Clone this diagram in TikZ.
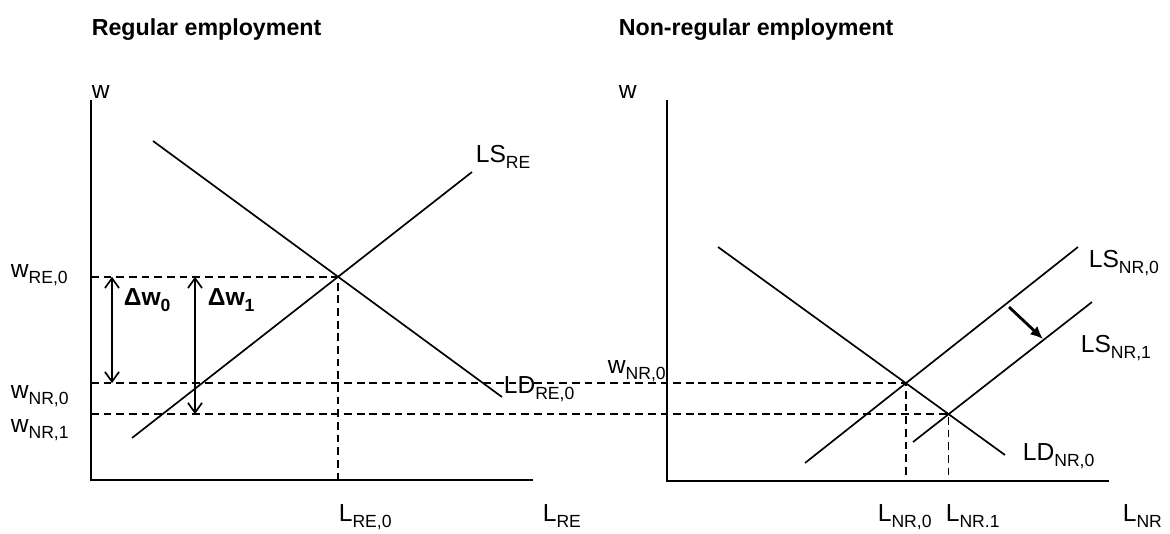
\documentclass[tikz,border=0pt]{standalone}
\usepackage{fontspec}
\setmainfont{Liberation Sans}
\usetikzlibrary{arrows.meta, calc}
\newcommand{\lsub}[1]{\raisebox{-0.25em}{\fontsize{12.5}{12.5}\selectfont #1}}

\begin{document}
\begin{tikzpicture}[
		x=0.025cm, y=-0.025cm,
		line width=1.2pt,
		>={Straight Barb[length=7pt, width=10pt]},
		axis/.style={line width=1.5pt},
		curve/.style={line width=1.2pt},
		guide/.style={dash pattern=on 5.5pt off 3.5pt, line width=1.1pt},
		shiftarr/.style={-{Latex[length=9pt, width=8pt]}, line width=2pt},
		lbl/.style={font=\fontsize{17.5}{17.5}\selectfont, anchor=base west, inner sep=0pt},
		delta/.style={font=\fontsize{17.5}{17.5}\selectfont\bfseries, anchor=base west, inner sep=0pt},
		title/.style={font=\fontsize{16.5}{16.5}\selectfont\bfseries, anchor=base west, inner sep=0pt}
		]
		\useasboundingbox (0,0) rectangle (1170,533);
		
		% Titles
		\node[title] (ttlRE) at (91,35) {Regular employment};
		\node[title] (ttlNR) at (618,35) {Non-regular employment};
		
		% Regular employment: axes
		\coordinate (wRE) at (91,100);
		\coordinate (oRE) at (91,480);
		\coordinate (lRE) at (533,480);
		\draw[axis] (wRE) -- (oRE) -- (lRE);
		
		% Regular employment: demand and supply
		\coordinate (ldREa) at (153,141);
		\coordinate (ldREb) at (502,397);
		\coordinate (lsREa) at (132,438);
		\coordinate (lsREb) at (472,172);
		\draw[curve] (ldREa) -- (ldREb);
		\draw[curve] (lsREa) -- (lsREb);
		\coordinate (eqRE) at (intersection of ldREa--ldREb and lsREa--lsREb);
		
		% Non-regular employment: axes
		\coordinate (wNR) at (667,100);
		\coordinate (oNR) at (667,481);
		\coordinate (lNR) at (1109,481);
		\draw[axis] (wNR) -- (oNR) -- (lNR);
		
		% Non-regular employment: demand and the two supplies
		\coordinate (ldNRa) at (718,247);
		\coordinate (ldNRb) at (1005,455);
		\coordinate (lsNRza) at (805,463);
		\coordinate (lsNRzb) at (1078,247);
		\coordinate (lsNRoa) at (913,442);
		\coordinate (lsNRob) at (1092,302);
		\draw[curve] (ldNRa) -- (ldNRb);
		\draw[curve] (lsNRza) -- (lsNRzb);
		\draw[curve] (lsNRoa) -- (lsNRob);
		\coordinate (eqNRz) at (intersection of ldNRa--ldNRb and lsNRza--lsNRzb);
		\coordinate (eqNRo) at (intersection of ldNRa--ldNRb and lsNRoa--lsNRob);
		
		% Shift of the supply
		\coordinate (shfa) at (1009,307);
		\coordinate (shfb) at (1043,339);
		\draw[shiftarr] (shfa) -- (shfb);
		
		% Dashed guides
		\draw[guide] (oRE |- eqRE) -- (eqRE) -- (eqRE |- oRE);
		\draw[guide] (oRE |- eqNRz) -- (eqNRz) -- (eqNRz |- oNR);
		\draw[guide] (oRE |- eqNRo) -- (eqNRo) -- (eqNRo |- oNR);
		
		% Wage gaps
		\coordinate (dwza) at ($(oRE |- eqRE)+(21,0)$);
		\coordinate (dwzb) at ($(oRE |- eqNRz)+(21,0)$);
		\coordinate (dwoa) at ($(oRE |- eqRE)+(104,0)$);
		\coordinate (dwob) at ($(oRE |- eqNRo)+(104,0)$);
		\draw[<->] (dwza) -- (dwzb);
		\draw[<->] (dwoa) -- (dwob);
		\node[delta] (dwzlbl) at (123,305) {Δw\lsub{0}};
		\node[delta] (dwolbl) at (207,305) {Δw\lsub{1}};
		
		% Labels, regular employment
		\node[lbl] (wRElbl) at (91,98) {w};
		\node[lbl] (lsRElbl) at (475,162) {LS\lsub{RE}};
		\node[lbl] (ldRElbl) at (503,393) {LD\lsub{RE,0}};
		\node[lbl] (wREzlbl) at (10,277) {w\lsub{RE,0}};
		\node[lbl] (wNRzlbl) at (10,398) {w\lsub{NR,0}};
		\node[lbl] (wNRolbl) at (10,432) {w\lsub{NR,1}};
		\node[lbl] (lREzlbl) at (338,521) {L\lsub{RE,0}};
		\node[lbl] (lRElbl) at (542,521) {L\lsub{RE}};
		
		% Labels, non-regular employment
		\node[lbl] (wNRlbl) at (618,98) {w};
		\node[lbl] (wNRzlblb) at (607,373) {w\lsub{NR,0}};
		\node[lbl] (lsNRzlbl) at (1088,267) {LS\lsub{NR,0}};
		\node[lbl] (lsNRolbl) at (1080,352) {LS\lsub{NR,1}};
		\node[lbl] (ldNRzlbl) at (1022,460) {LD\lsub{NR,0}};
		\node[lbl] (lNRzlbl) at (877,521) {L\lsub{NR,0}};
		\node[lbl] (lNRolbl) at (945,521) {L\lsub{NR.1}};
		\node[lbl] (lNRlbl) at (1122,521) {L\lsub{NR}};
		
	\end{tikzpicture}
\end{document}
